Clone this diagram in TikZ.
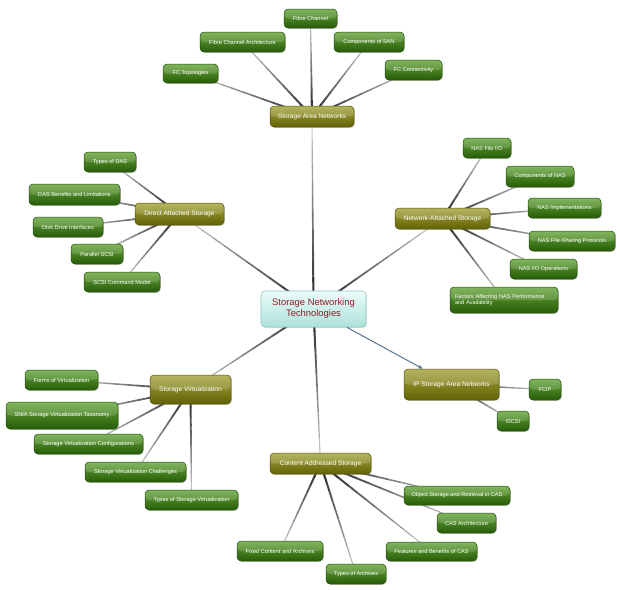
\documentclass[tikz,border=0pt]{standalone}
\usepackage{fontspec}
\setmainfont{Liberation Sans}
\usetikzlibrary{calc,shadows,arrows.meta}
\pgfdeclarelayer{background}
\pgfsetlayers{background,main}
\definecolor{leaftop}{RGB}{104,166,60}
\definecolor{leafmid}{RGB}{58,122,18}
\definecolor{leafbot}{RGB}{38,92,8}
\definecolor{leafborder}{RGB}{34,78,8}
\definecolor{olivetop}{RGB}{166,166,62}
\definecolor{olivemid}{RGB}{128,128,22}
\definecolor{olivebot}{RGB}{98,98,6}
\definecolor{oliveborder}{RGB}{82,82,10}
\definecolor{centtop}{RGB}{236,252,249}
\definecolor{centbot}{RGB}{172,226,218}
\definecolor{centborder}{RGB}{140,200,190}
\definecolor{centtext}{RGB}{140,30,40}
\definecolor{arrowblue}{RGB}{88,114,145}
\newcommand\gradedge[2]{%
  \foreach \gi in {0,...,11}{%
    \pgfmathsetmacro\gta{\gi/12}%
    \pgfmathsetmacro\gtb{(\gi+1)/12}%
    \pgfmathsetmacro\gcol{85-65*\gi/11}%
    \pgfmathsetmacro\gwid{2.2-1.2*\gi/11}%
    \draw[line width=\gwid pt, draw=black!\gcol, line cap=round]
      ($(#1)!\gta!(#2)$) -- ($(#1)!\gtb!(#2)$);
  }}
\tikzset{
  gloss/.style={path picture={\fill[white,opacity=0.16]
      (path picture bounding box.north west) rectangle (path picture bounding box.east);}},
  boxbase/.style={rounded corners=4pt, inner xsep=3pt, inner ysep=0pt, gloss,
    drop shadow={shadow xshift=0.9pt, shadow yshift=-0.9pt, opacity=0.3}},
  leaf/.style={boxbase, draw=leafborder, line width=0.5pt,
    top color=leaftop, middle color=leafmid, bottom color=leafbot,
    text=white, font=\fontsize{5.6}{6.6}\selectfont},
  topic/.style={boxbase, draw=oliveborder, line width=0.5pt,
    top color=olivetop, middle color=olivemid, bottom color=olivebot,
    text=white, font=\fontsize{6.6}{7.8}\selectfont},
  central/.style={rounded corners=4pt, draw=centborder, line width=0.6pt,
    top color=centtop, bottom color=centbot, text=centtext, align=center,
    font=\fontsize{9.4}{11}\selectfont,
    drop shadow={shadow xshift=0.9pt, shadow yshift=-0.9pt, opacity=0.25}},
  iparrow/.style={draw=arrowblue, line width=1pt, -{Stealth[length=5pt,width=4pt]}}
}
\begin{document}
\begin{tikzpicture}[x=1pt,y=-1pt]
\useasboundingbox (0,0) rectangle (620,589);
% central
\node[central, minimum width=105pt, minimum height=36pt] (snt) at (313.5,309) {Storage Networking\\Technologies};
% SAN
\node[topic, minimum width=84pt, minimum height=21pt] (san) at (312,116.5) {Storage Area Networks};
\node[leaf, minimum width=53pt, minimum height=19pt] (fc) at (310.5,18.5) {Fibre Channel};
\node[leaf, minimum width=85pt, minimum height=20pt] (fcarch) at (242.5,42) {Fibre Channel Architecture};
\node[leaf, minimum width=70pt, minimum height=20pt] (csan) at (369,42) {Components of SAN};
\node[leaf, minimum width=55pt, minimum height=19pt] (fctop) at (190.5,73.5) {FC Topologies};
\node[leaf, minimum width=57pt, minimum height=20pt] (fccon) at (413.5,70) {FC Connectivity};
% DAS
\node[topic, minimum width=89pt, minimum height=22pt] (das) at (179.5,214) {Direct Attached Storage};
\node[leaf, minimum width=52pt, minimum height=20pt] (tdas) at (110,162) {Types of DAS};
\node[leaf, minimum width=91pt, minimum height=21pt] (dasbl) at (74.5,194.5) {DAS Benefits and Limitations};
\node[leaf, minimum width=70pt, minimum height=20pt] (ddi) at (68,227) {Disk Drive Interfaces};
\node[leaf, minimum width=52pt, minimum height=20pt] (pscsi) at (97,254) {Parallel SCSI};
\node[leaf, minimum width=76pt, minimum height=20pt] (scsicm) at (122,282) {SCSI Command Model};
% NAS
\node[topic, minimum width=95pt, minimum height=21pt] (nas) at (442.5,218.5) {Network-Attached Storage};
\node[leaf, minimum width=48pt, minimum height=20pt] (nasfio) at (487,148) {NAS File I/O};
\node[leaf, minimum width=68pt, minimum height=21pt] (cnas) at (540,176.5) {Components of NAS};
\node[leaf, minimum width=73pt, minimum height=20pt] (nasimp) at (564.5,208) {NAS Implementations};
\node[leaf, minimum width=86pt, minimum height=20pt] (nasfsp) at (572,241) {NAS File-Sharing Protocols};
\node[leaf, minimum width=67pt, minimum height=20pt] (nasio) at (543.5,269) {NAS I/O Operations};
\node[leaf, minimum width=108pt, minimum height=26pt, align=left, text width=98pt] (nasfac) at (504,300) {Factors Affecting NAS Performance\\and Availability};
% Storage Virtualization
\node[topic, minimum width=81pt, minimum height=29pt] (sv) at (190.5,389.5) {Storage Virtualization};
\node[leaf, minimum width=73pt, minimum height=20pt] (fov) at (61.5,380) {Forms of Virtualization};
\node[leaf, minimum width=112pt, minimum height=27pt] (snia) at (62,415.5) {SNIA Storage Virtualization Taxonomy};
\node[leaf, minimum width=109pt, minimum height=20pt] (svconf) at (88.5,444) {Storage Virtualization Configurations};
\node[leaf, minimum width=101pt, minimum height=20pt] (svchal) at (135.5,472) {Storage Virtualization Challenges};
\node[leaf, minimum width=93pt, minimum height=20pt] (tsv) at (191.5,500) {Types of Storage Virtualization};
% IP SAN
\node[topic, minimum width=95pt, minimum height=31pt] (ipsan) at (451.5,384.5) {IP Storage Area Networks};
\node[leaf, minimum width=32pt, minimum height=21pt] (fcip) at (545,389.5) {FCIP};
\node[leaf, minimum width=32pt, minimum height=20pt] (iscsi) at (513,421) {iSCSI};
% CAS
\node[topic, minimum width=101pt, minimum height=21pt] (cas) at (320.5,463.5) {Content Addressed Storage};
\node[leaf, minimum width=106pt, minimum height=19pt] (osr) at (457,495.5) {Object Storage and Retrieval in CAS};
\node[leaf, minimum width=59pt, minimum height=20pt] (casarch) at (466.5,523) {CAS Architecture};
\node[leaf, minimum width=91pt, minimum height=19pt] (fbcas) at (431.5,551.5) {Features and Benefits of CAS};
\node[leaf, minimum width=86pt, minimum height=20pt] (fixca) at (280,551) {Fixed Content and Archives};
\node[leaf, minimum width=60pt, minimum height=20pt] (toa) at (356,574) {Types of Archives};
% connectors
\begin{pgfonlayer}{background}
\gradedge{snt}{san}
\gradedge{snt}{das}
\gradedge{snt}{nas}
\gradedge{snt}{sv}
\gradedge{snt}{cas}
\gradedge{san}{fc}
\gradedge{san}{fcarch}
\gradedge{san}{csan}
\gradedge{san}{fctop}
\gradedge{san}{fccon}
\gradedge{das}{tdas}
\gradedge{das}{dasbl}
\gradedge{das}{ddi}
\gradedge{das}{pscsi}
\gradedge{das}{scsicm}
\gradedge{nas}{nasfio}
\gradedge{nas}{cnas}
\gradedge{nas}{nasimp}
\gradedge{nas}{nasfsp}
\gradedge{nas}{nasio}
\gradedge{nas}{nasfac}
\gradedge{sv}{fov}
\gradedge{sv}{snia}
\gradedge{sv}{svconf}
\gradedge{sv}{svchal}
\gradedge{sv}{tsv}
\gradedge{ipsan}{fcip}
\gradedge{ipsan}{iscsi}
\gradedge{cas}{osr}
\gradedge{cas}{casarch}
\gradedge{cas}{fbcas}
\gradedge{cas}{fixca}
\gradedge{cas}{toa}
\end{pgfonlayer}
\draw[iparrow] (snt) -- (ipsan);
\end{tikzpicture}
\end{document}
